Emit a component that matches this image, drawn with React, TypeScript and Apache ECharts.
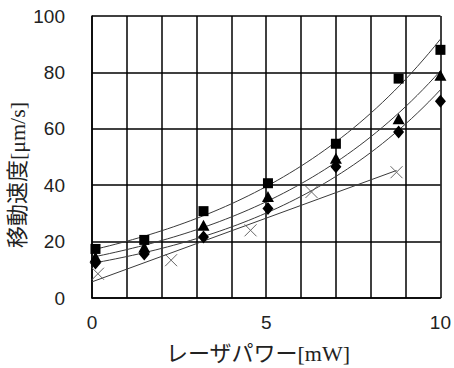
import React, { useEffect, useRef } from "react";
import * as echarts from "echarts";

// ---- data ----
const xMain = [0.1, 1.5, 3.2, 5.05, 7.0, 8.8, 10.0];
const squareY = [17.4, 20.6, 30.8, 40.7, 54.7, 77.8, 88.0];
const triangleY = [14.5, 18.0, 25.8, 36.0, 49.6, 63.6, 79.0];
const diamondY = [12.4, 15.6, 21.6, 31.7, 46.5, 58.9, 69.8];
const xCross = [0.17, 2.27, 4.55, 6.3, 8.74];
const crossY = [8.6, 13.4, 24.0, 37.6, 44.6];

const xTicks = [0, 5, 10];
const yTicks = [0, 20, 40, 60, 80, 100];
const xTitle = "レーザパワー[mW]";
const yTitle = "移動速度[μm/s]";

// ---- trendlines (least squares, as the spreadsheet does) ----
function linFit(xs: number[], ys: number[]) {
  const n = xs.length;
  const mx = xs.reduce((a, b) => a + b, 0) / n;
  const my = ys.reduce((a, b) => a + b, 0) / n;
  let sxy = 0, sxx = 0;
  for (let i = 0; i < n; i++) {
    sxy += (xs[i] - mx) * (ys[i] - my);
    sxx += (xs[i] - mx) ** 2;
  }
  const b = sxy / sxx;
  return { a: my - b * mx, b };
}
function expCurve(xs: number[], ys: number[], x0: number, x1: number) {
  const f = linFit(xs, ys.map((v) => Math.log(v)));
  const pts: number[][] = [];
  const steps = 60;
  for (let i = 0; i <= steps; i++) {
    const x = x0 + ((x1 - x0) * i) / steps;
    pts.push([x, Math.exp(f.a + f.b * x)]);
  }
  return pts;
}
function linLine(xs: number[], ys: number[], x0: number, x1: number) {
  const f = linFit(xs, ys);
  return [
    [x0, f.a + f.b * x0],
    [x1, f.a + f.b * x1],
  ];
}

const zip = (xs: number[], ys: number[]) => xs.map((x, i) => [x, ys[i]]);

export default function App() {
  const ref = useRef<HTMLDivElement>(null);
  useEffect(() => {
    if (!ref.current) return;
    const chart = echarts.init(ref.current, undefined, { renderer: "svg" });
    const trend = (data: number[][]) => ({
      type: "line",
      data,
      showSymbol: false,
      symbol: "none",
      silent: true,
      lineStyle: { color: "#3a3a3a", width: 1 },
      z: 2,
    });
    const scatter = (data: number[][], symbol: string, size: any, itemStyle: any = { color: "#000", opacity: 1 }) => ({
      type: "scatter",
      data,
      symbol,
      symbolSize: size,
      itemStyle,
      z: 3,
    });
    chart.setOption({
      animation: false,
      grid: { left: 92, top: 16, right: 11, bottom: 70 },
      xAxis: {
        type: "value",
        min: 0,
        max: 10,
        interval: 1,
        axisLine: { show: true, lineStyle: { color: "#000", width: 1.5 } },
        axisTick: { show: false },
        splitLine: { show: true, lineStyle: { color: "#000", width: 1.5 } },
        axisLabel: {
          margin: 15,
          fontSize: 19,
          color: "#222",
          fontFamily: "Liberation Sans",
          formatter: (v: number) => (xTicks.includes(v) ? String(v) : ""),
        },
      },
      yAxis: {
        type: "value",
        min: 0,
        max: 100,
        interval: 20,
        axisLine: { show: true, lineStyle: { color: "#000", width: 1.5 } },
        axisTick: { show: false },
        splitLine: { show: true, lineStyle: { color: "#000", width: 1.5 } },
        axisLabel: {
          margin: 27,
          fontSize: 19,
          color: "#222",
          fontFamily: "Liberation Sans",
          formatter: (v: number) => (yTicks.includes(v) ? String(v) : ""),
        },
      },
      graphic: [
        {
          type: "text",
          x: 258,
          y: 353,
          style: {
            text: xTitle,
            fontSize: 22,
            fontFamily: "Liberation Serif, Noto Sans CJK JP",
            fill: "#222",
            align: "center",
            verticalAlign: "middle",
          },
        },
        {
          type: "text",
          x: 17,
          y: 175,
          rotation: Math.PI / 2,
          style: {
            text: yTitle,
            fontSize: 22,
            fontFamily: "Liberation Serif, Noto Sans CJK JP",
            fill: "#222",
            align: "center",
            verticalAlign: "middle",
          },
        },
      ],
      series: [
        trend(expCurve(xMain, squareY, 0, 10)),
        trend(expCurve(xMain, triangleY, 0, 10)),
        trend(expCurve(xMain, diamondY, 0, 10)),
        trend(linLine(xCross, crossY, 0, xCross[xCross.length - 1])),
        scatter(zip(xMain, squareY), "rect", 10),
        scatter(zip(xMain, triangleY), "triangle", [12, 11]),
        scatter(zip(xMain, diamondY), "diamond", [11, 13]),
        scatter(zip(xCross, crossY), "path://M0,0L10,10M10,0L0,10", 12, {
          color: "transparent",
          borderColor: "#666",
          borderWidth: 1,
          opacity: 1,
        }),
      ],
    });
    return () => chart.dispose();
  }, []);
  return <div ref={ref} style={{ width: 454, height: 368, position: "absolute", left: 0, top: 0 }} />;
}
